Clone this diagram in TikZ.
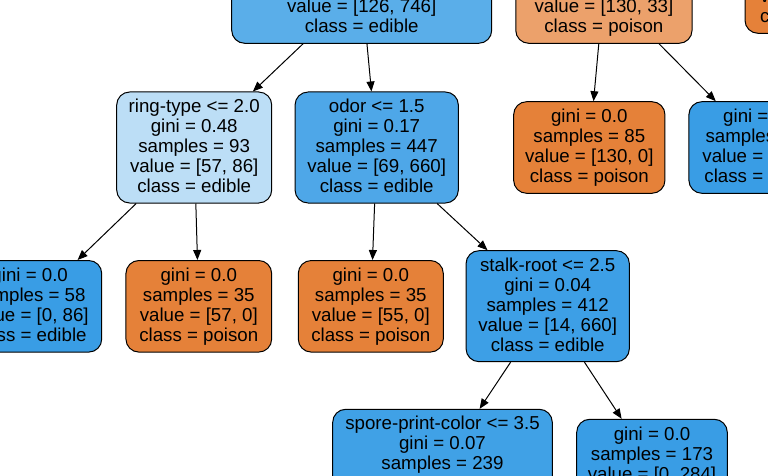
\documentclass[tikz,border=0pt]{standalone}
\usepackage{fontspec}
\setmainfont{Liberation Sans}
\usetikzlibrary{arrows.meta}
\definecolor{cRoot}{HTML}{5AAEE9}
\definecolor{cTopR}{HTML}{ECA16B}
\definecolor{cRing}{HTML}{BCDEF6}
\definecolor{cOdor}{HTML}{4EA7E8}
\definecolor{cStalk}{HTML}{3D9FE6}
\definecolor{cSpore}{HTML}{40A1E6}
\definecolor{cOrange}{HTML}{E58139}
\definecolor{cBlue}{HTML}{399DE5}
\newcommand{\tstr}{\rule[-6pt]{0pt}{22pt}}
\newcommand{\bstr}{\rule[-6pt]{0pt}{20pt}}
\begin{document}
\begin{tikzpicture}[x=1pt,y=-1pt,
  tnode/.style={draw=black, line width=1pt, rounded corners=13pt, align=center,
    inner sep=0pt, font=\fontsize{18.7}{20}\selectfont},
  split/.style={tnode, minimum height=111},
  leaf/.style={tnode, minimum height=91.6},
  conn/.style={draw=black, line width=1pt, -{Triangle[length=10pt,width=8pt]}}]
\path[fill=white, use as bounding box] (0,0) rectangle (768,476);

% level 1
\node[split, fill=cRoot, minimum width=260] (root) at (361.7,-12.2)
  {\tstr\\\strut\\\strut\\value = [126, 746]\\class = edible\bstr};
\node[split, fill=cTopR, minimum width=176.3] (topR) at (603.9,-12.2)
  {\tstr\\\strut\\\strut\\value = [130, 33]\\class = poison\bstr};
\node[leaf, fill=cOrange, align=left, text width=120, inner xsep=15pt] (fr) at (820,-12.5)
  {\tstr\\\strut\\v\\c\bstr};

% level 2
\node[split, fill=cRing, minimum width=155] (ring) at (194.2,147.5)
  {\tstr ring-type <= 2.0\\gini = 0.48\\samples = 93\\value = [57, 86]\\class = edible\bstr};
\node[split, fill=cOdor, minimum width=163.3] (odor) at (376.7,147.5)
  {\tstr odor <= 1.5\\gini = 0.17\\samples = 447\\value = [69, 660]\\class = edible\bstr};
\node[leaf, fill=cOrange, minimum width=151.3] (n85) at (589.3,147.5)
  {\tstr gini = 0.0\\samples = 85\\value = [130, 0]\\class = poison\bstr};
\node[leaf, fill=cBlue, minimum width=145] (nR) at (761.4,147.5)
  {\tstr gini = \phantom{0.0}\\samples\phantom{ = 00}\\value = [\phantom{0, 33]}\\class = e\phantom{dible}\bstr};

% level 3
\node[leaf, fill=cBlue, minimum width=144] (L) at (29.7,306.3)
  {\tstr gini = 0.0\\samples = 58\\value = [0, 86]\\class = edible\bstr};
\node[leaf, fill=cOrange, minimum width=145.7] (o1) at (198.8,306.3)
  {\tstr gini = 0.0\\samples = 35\\value = [57, 0]\\class = poison\bstr};
\node[leaf, fill=cOrange, minimum width=145] (o2) at (370.8,306.3)
  {\tstr gini = 0.0\\samples = 35\\value = [55, 0]\\class = poison\bstr};
\node[split, fill=cStalk, minimum width=163.3] (stalk) at (547.7,306.2)
  {\tstr stalk-root <= 2.5\\gini = 0.04\\samples = 412\\value = [14, 660]\\class = edible\bstr};

% level 4
\node[split, fill=cSpore, minimum width=219.6] (spore) at (442.5,464.8)
  {\tstr spore-print-color <= 3.5\\gini = 0.07\\samples = 239\\\strut\\\bstr};
\node[leaf, fill=cBlue, minimum width=150.6] (n173) at (652,465.1)
  {\tstr gini = 0.0\\samples = 173\\value = [0, 284]\\\bstr};

% connectors
\draw[conn] (root) -- (ring);
\draw[conn] (root) -- (odor);
\draw[conn] (topR) -- (n85);
\draw[conn] (topR) -- (nR);
\draw[conn] (ring) -- (L);
\draw[conn] (ring) -- (o1);
\draw[conn] (odor) -- (o2);
\draw[conn] (odor) -- (stalk);
\draw[conn] (stalk) -- (spore);
\draw[conn] (stalk) -- (n173);
\end{tikzpicture}
\end{document}
